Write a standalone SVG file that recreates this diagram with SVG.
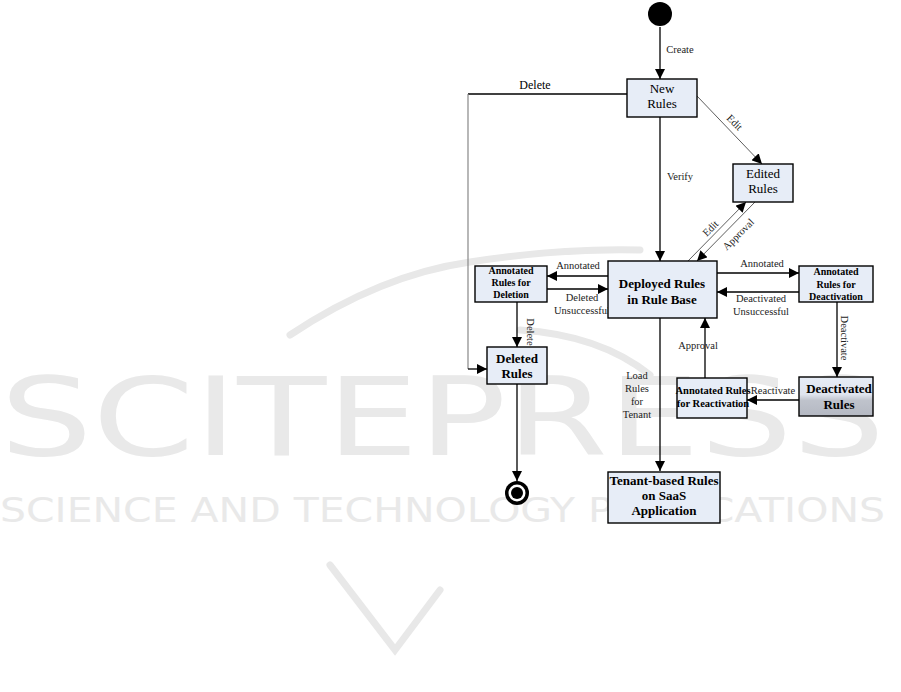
<svg xmlns="http://www.w3.org/2000/svg" width="901" height="692" viewBox="0 0 901 692">
<defs>
<marker id="ah" markerUnits="userSpaceOnUse" markerWidth="10" markerHeight="10" viewBox="0 0 10 10" refX="10" refY="5" orient="auto">
<path d="M0,0 L10,5 L0,10 Z" fill="#000"/>
</marker>
<linearGradient id="deact" x1="0" y1="0" x2="0" y2="1">
<stop offset="0" stop-color="#e6ecf6"/>
<stop offset="0.45" stop-color="#dfe4ee"/>
<stop offset="0.6" stop-color="#bfc3cc"/>
<stop offset="1" stop-color="#b4b8c2"/>
</linearGradient>
<style>
.box{fill:#e7edf7;stroke:#000;stroke-width:1.4}
.t{font-family:"Liberation Serif","Times New Roman",serif;fill:#000;text-anchor:middle}
.n{font-size:13px}
.b{font-size:13px;font-weight:bold}
.s{font-size:10px;font-weight:bold}
.l{font-size:10.5px;fill:#222}
.c{fill:none;stroke:#000;stroke-width:1.3}
.th{fill:none;stroke:#333;stroke-width:0.8}
.wm{font-family:"DejaVu Sans","Liberation Sans",sans-serif;fill:#e9e9e9}
.sw{fill:none;stroke:#e8e8e8;stroke-width:7;stroke-linecap:round}
</style>
</defs>
<rect width="901" height="692" fill="#fff"/>
<g id="watermark">
<path class="sw" d="M290,335 Q380,275 470,262 Q560,248 640,250"/>
<path class="sw" d="M520,330 Q600,335 650,375"/>
<path class="sw" d="M330,565 L395,650 L440,590"/>
<text class="wm" x="0" y="455" font-size="108" textLength="885" lengthAdjust="spacingAndGlyphs">SCITEPRESS</text>
<text class="wm" x="0" y="522" font-size="34" textLength="885" lengthAdjust="spacingAndGlyphs">SCIENCE AND TECHNOLOGY PUBLICATIONS</text>
</g>
<g id="connectors">
<line class="c" x1="660" y1="27" x2="660" y2="79" marker-end="url(#ah)"/>
<text class="t l" x="680" y="53">Create</text>
<polyline class="c" points="627,94 468,94" />
<polyline fill="none" stroke="#888" stroke-width="1.2" points="468,94 468,369"/>
<line class="c" x1="468" y1="369" x2="487" y2="369" marker-end="url(#ah)"/>
<text class="t" x="535" y="89" font-size="12">Delete</text>
<line class="c" x1="660" y1="117" x2="660" y2="261" marker-end="url(#ah)"/>
<text class="t l" x="680" y="180">Verify</text>
<line class="th" x1="697" y1="96" x2="762" y2="164" marker-end="url(#ah)"/>
<text class="t l" transform="translate(735,122) rotate(45)" y="4">Edit</text>
<line class="th" x1="688" y1="261" x2="746" y2="202" marker-end="url(#ah)"/>
<text class="t l" transform="translate(710,228) rotate(-45)" y="4">Edit</text>
<line class="th" x1="755" y1="202" x2="697" y2="261" marker-end="url(#ah)"/>
<text class="t l" transform="translate(738,234) rotate(-45)" y="4">Approval</text>
<line class="c" x1="608" y1="276" x2="547" y2="276" marker-end="url(#ah)"/>
<text class="t l" x="578" y="269">Annotated</text>
<line class="c" x1="547" y1="289" x2="608" y2="289" marker-end="url(#ah)"/>
<text class="t l" x="582" y="301">Deleted</text>
<text class="t l" x="582" y="314">Unsuccessful</text>
<line class="c" x1="517" y1="302" x2="517" y2="347" marker-end="url(#ah)"/>
<text class="t l" transform="translate(531,332) rotate(90)" y="4">Delete</text>
<line class="c" x1="517" y1="384" x2="517" y2="481" marker-end="url(#ah)"/>
<line class="c" x1="717" y1="273" x2="799" y2="273" marker-end="url(#ah)"/>
<text class="t l" x="762" y="267">Annotated</text>
<line class="c" x1="799" y1="292" x2="717" y2="292" marker-end="url(#ah)"/>
<text class="t l" x="761" y="302">Deactivated</text>
<text class="t l" x="761" y="315">Unsuccessful</text>
<line class="c" x1="837" y1="302" x2="837" y2="377" marker-end="url(#ah)"/>
<text class="t l" transform="translate(845,338) rotate(90)" y="4">Deactivate</text>
<line class="c" x1="799" y1="400" x2="747" y2="400" marker-end="url(#ah)"/>
<text class="t l" x="773" y="394">Reactivate</text>
<line class="c" x1="705" y1="378" x2="705" y2="318" marker-end="url(#ah)"/>
<text class="t l" x="698" y="349">Approval</text>
<line class="c" x1="660" y1="318" x2="660" y2="471" marker-end="url(#ah)"/>
<text class="t l" x="637" y="379">Load</text>
<text class="t l" x="637" y="392">Rules</text>
<text class="t l" x="637" y="405">for</text>
<text class="t l" x="637" y="418">Tenant</text>
</g>
<g id="start"><circle cx="660" cy="14" r="12" fill="#000"/></g>
<g id="end">
<circle cx="517" cy="493" r="12" fill="#000"/>
<circle cx="517" cy="493" r="8.5" fill="#fff"/>
<circle cx="517" cy="493" r="6" fill="#000"/>
</g>
<g id="new-rules">
<rect class="box" x="627" y="79" width="70" height="38"/>
<text class="t n" x="662" y="93">New</text>
<text class="t n" x="662" y="108">Rules</text>
</g>
<g id="edited-rules">
<rect class="box" x="733" y="164" width="60" height="38"/>
<text class="t n" x="763" y="178">Edited</text>
<text class="t n" x="763" y="193">Rules</text>
</g>
<g id="deployed-rules">
<rect class="box" x="608" y="261" width="109" height="57"/>
<text class="t b" x="662" y="288">Deployed Rules</text>
<text class="t b" x="662" y="304">in Rule Base</text>
</g>
<g id="annotated-deletion">
<rect class="box" x="475" y="266" width="72" height="36"/>
<text class="t s" x="511" y="274">Annotated</text>
<text class="t s" x="511" y="286">Rules for</text>
<text class="t s" x="511" y="298">Deletion</text>
</g>
<g id="deleted-rules">
<rect class="box" x="487" y="347" width="60" height="37"/>
<text class="t b" x="517" y="363">Deleted</text>
<text class="t b" x="517" y="378">Rules</text>
</g>
<g id="annotated-deactivation">
<rect class="box" x="799" y="266" width="74" height="36"/>
<text class="t s" x="836" y="275">Annotated</text>
<text class="t s" x="836" y="288">Rules for</text>
<text class="t s" x="836" y="300">Deactivation</text>
</g>
<g id="deactivated-rules">
<rect x="799" y="377" width="74" height="39" fill="url(#deact)" stroke="#000" stroke-width="1.4"/>
<text class="t b" x="839" y="393">Deactivated</text>
<text class="t b" x="839" y="409">Rules</text>
</g>
<g id="annotated-reactivation">
<rect class="box" x="677" y="378" width="70" height="40"/>
<text class="t" x="713" y="394" font-size="10.5" font-weight="bold">Annotated Rules</text>
<text class="t" x="713" y="407" font-size="10.5" font-weight="bold">for Reactivation</text>
</g>
<g id="tenant-rules">
<rect class="box" x="608" y="472" width="112" height="51"/>
<text class="t b" x="664" y="485">Tenant-based Rules</text>
<text class="t b" x="664" y="500">on SaaS</text>
<text class="t b" x="664" y="515">Application</text>
</g>
</svg>
